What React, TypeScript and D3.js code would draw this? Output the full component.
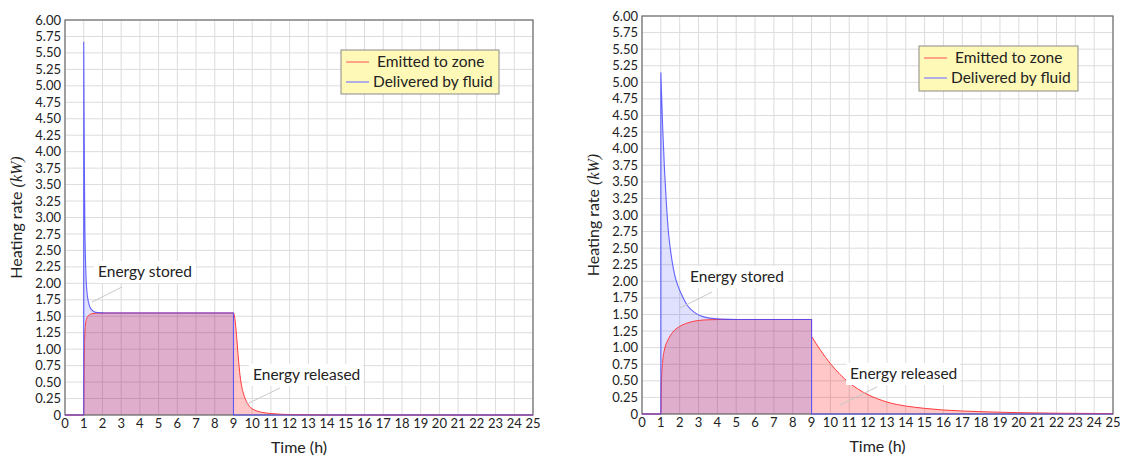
import React from "react";
import * as d3 from "d3";

type Pt = [number, number];

// Time (h) axis ticks and heating-rate (kW) ticks
const timeTicks: number[] = d3.range(0, 26, 1);
const rateTicks: number[] = d3.range(0, 6.001, 0.25);

const legendLabels = ["Emitted to zone", "Delivered by fluid"];
const annotationLabels = ["Energy stored", "Energy released"];

// Case A: light emitter, fast response
const caseADelivered: Pt[] = [
  [0, 0], [1, 0], [1, 5.67], [1.02, 4.6], [1.04, 3.6], [1.06, 2.9], [1.09, 2.4],
  [1.13, 2.05], [1.18, 1.85], [1.25, 1.72], [1.33, 1.64], [1.42, 1.6], [1.55, 1.57],
  [1.75, 1.555], [2.2, 1.55], [9, 1.55], [9, 0], [25, 0],
];
const caseAEmitted: Pt[] = [
  [0, 0], [1, 0], [1.02, 0.75], [1.05, 1.15], [1.09, 1.36], [1.15, 1.46], [1.25, 1.51],
  [1.4, 1.535], [1.7, 1.548], [2.2, 1.55], [9, 1.55], [9.08, 1.45], [9.16, 1.22],
  [9.25, 0.9], [9.35, 0.6], [9.45, 0.42], [9.55, 0.31], [9.7, 0.2], [9.85, 0.13],
  [10, 0.095], [10.25, 0.06], [10.5, 0.042], [11, 0.022], [11.5, 0.012], [12, 0.006],
  [13, 0.002], [14, 0], [25, 0],
];

// Case B: heavy emitter, slow response
const caseBDelivered: Pt[] = [
  [0, 0], [1, 0], [1, 5.15], [1.1, 4.3], [1.2, 3.65], [1.3, 3.15], [1.4, 2.75],
  [1.5, 2.5], [1.6, 2.3], [1.75, 2.08], [1.9, 1.94], [2.1, 1.8], [2.4, 1.64],
  [2.75, 1.54], [3.1, 1.48], [3.6, 1.445], [4.2, 1.43], [5, 1.425], [9, 1.425],
  [9, 0], [25, 0],
];
const caseBEmitted: Pt[] = [
  [0, 0], [1, 0], [1.02, 0.35], [1.05, 0.6], [1.1, 0.8], [1.2, 0.98], [1.35, 1.1],
  [1.5, 1.18], [1.75, 1.27], [2, 1.32], [2.5, 1.38], [3, 1.41], [3.5, 1.42],
  [4.2, 1.425], [9, 1.425], [9, 1.17], [9.5, 0.95], [10, 0.76], [10.5, 0.6],
  [11, 0.47], [11.5, 0.37], [12, 0.29], [12.5, 0.23], [13, 0.18], [13.5, 0.145],
  [14, 0.12], [15, 0.085], [16, 0.06], [17, 0.045], [18, 0.035], [19, 0.027],
  [20, 0.02], [22, 0.012], [25, 0.006],
];

const FONT = "Lato, 'Open Sans', sans-serif";
const RED = "#ff3b3b";
const BLUE = "#4a4aff";

// Break a series wherever the time repeats (a vertical jump)
function segments(data: Pt[]): Pt[][] {
  const out: Pt[][] = [[data[0]]];
  for (let i = 1; i < data.length; i++) {
    if (data[i][0] === data[i - 1][0]) out.push([data[i]]);
    else out[out.length - 1].push(data[i]);
  }
  return out;
}

interface Note {
  tx: number;
  ty: number;
  w: number;
  from: Pt;
  to: Pt;
}

interface Layout {
  left: number;
  right: number;
  top: number;
  bottom: number;
  legend: { x: number; y: number; w: number; h: number };
  stored: Note;
  released: Note;
}

function Chart({ delivered, emitted, L }: { delivered: Pt[]; emitted: Pt[]; L: Layout }) {
  const x = d3.scaleLinear().domain([0, 25]).range([L.left, L.right]);
  const y = d3.scaleLinear().domain([0, 6]).range([L.bottom, L.top]);

  const line = d3.line<Pt>().x((d) => x(d[0])).y((d) => y(d[1])).curve(d3.curveMonotoneX);
  const area = d3
    .area<Pt>()
    .x((d) => x(d[0]))
    .y0(y(0))
    .y1((d) => y(d[1]))
    .curve(d3.curveMonotoneX);

  const linePath = (data: Pt[]) =>
    segments(data)
      .map((s, i) => {
        const p = s.length > 1 ? (line(s) as string) : `M${x(s[0][0])},${y(s[0][1])}`;
        return i === 0 ? p : "L" + p.slice(1);
      })
      .join("");
  const areaPaths = (data: Pt[]) =>
    segments(data)
      .filter((s) => s.length > 1)
      .map((s) => area(s) as string);

  const fmt = (v: number) => (v === 0 ? "0" : v.toFixed(2));
  const midX = (L.left + L.right) / 2;
  const midY = (L.top + L.bottom) / 2;

  const annotation = (a: Note, label: string) => (
    <g>
      <line x1={a.from[0]} y1={a.from[1]} x2={a.to[0]} y2={a.to[1]} stroke="#c8c8c8" strokeWidth={1} />
      <rect x={a.tx - 4} y={a.ty - 11} width={a.w + 8} height={22} fill="#fff" />
      <text x={a.tx} y={a.ty} dy="0.35em" fontSize={15.5} fill="#222" fontFamily={FONT}>
        {label}
      </text>
    </g>
  );

  return (
    <g>
      {/* grid */}
      {timeTicks.map((t) => (
        <line key={"gx" + t} x1={x(t)} x2={x(t)} y1={L.top} y2={L.bottom} stroke="#dcdcdc" strokeWidth={1} />
      ))}
      {rateTicks.map((v) => (
        <line key={"gy" + v} x1={L.left} x2={L.right} y1={y(v)} y2={y(v)} stroke="#dcdcdc" strokeWidth={1} />
      ))}

      {/* filled areas */}
      {areaPaths(emitted).map((d, i) => (
        <path key={"ea" + i} d={d} fill="rgba(255,0,0,0.22)" stroke="none" />
      ))}
      {areaPaths(delivered).map((d, i) => (
        <path key={"da" + i} d={d} fill="rgba(0,0,255,0.12)" stroke="none" />
      ))}

      {/* frame */}
      <rect x={L.left} y={L.top} width={L.right - L.left} height={L.bottom - L.top} fill="none" stroke="#6b6b6b" strokeWidth={1.2} />

      {/* curves */}
      <path d={linePath(emitted)} fill="none" stroke={RED} strokeWidth={1} />
      <path d={linePath(delivered)} fill="none" stroke={BLUE} strokeWidth={1.1} strokeOpacity={0.85} />

      {/* tick labels */}
      {timeTicks.map((t) => (
        <text key={"tx" + t} x={x(t)} y={L.bottom + 4} dy="0.71em" textAnchor="middle" fontSize={13} fill="#222" fontFamily={FONT}>
          {t}
        </text>
      ))}
      {rateTicks.map((v) => (
        <text key={"ty" + v} x={L.left - 4} y={y(v)} dy="0.35em" textAnchor="end" fontSize={13} fill="#222" fontFamily={FONT}>
          {fmt(v)}
        </text>
      ))}

      {/* axis titles */}
      <text x={midX} y={L.bottom + 38} textAnchor="middle" fontSize={16} fill="#222" fontFamily={FONT}>
        Time (h)
      </text>
      <text
        transform={`translate(${L.left - 43},${midY}) rotate(-90)`}
        textAnchor="middle"
        fontSize={16}
        fill="#222"
        fontFamily={FONT}
      >
        Heating rate{" "}
        <tspan fontFamily="'Liberation Serif', 'DejaVu Serif', serif" fontStyle="italic">
          (kW)
        </tspan>
      </text>

      {/* annotations */}
      {annotation(L.stored, annotationLabels[0])}
      {annotation(L.released, annotationLabels[1])}

      {/* legend */}
      <g>
        <rect x={L.legend.x} y={L.legend.y} width={L.legend.w} height={L.legend.h} fill="#fff9b8" stroke="#8a8a8a" strokeWidth={1} />
        {legendLabels.map((lab, i) => {
          const ly = L.legend.y + 12 + i * 20;
          return (
            <g key={lab}>
              <line x1={L.legend.x + 5} x2={L.legend.x + 28} y1={ly} y2={ly} stroke={i === 0 ? "#ff6b6b" : "#7b7bff"} strokeWidth={1.2} />
              <text x={L.legend.x + (i === 0 ? 36 : 32)} y={ly} dy="0.35em" fontSize={15.5} fill="#222" fontFamily={FONT}>
                {lab}
              </text>
            </g>
          );
        })}
      </g>
    </g>
  );
}

const layoutA: Layout = {
  left: 65,
  right: 533,
  top: 20,
  bottom: 415,
  legend: { x: 341, y: 50, w: 158, h: 44 },
  stored: { tx: 98, ty: 272, w: 94, from: [92, 302], to: [122, 287] },
  released: { tx: 253, ty: 375, w: 106, from: [245, 405], to: [280, 388] },
};

const layoutB: Layout = {
  left: 642,
  right: 1113,
  top: 16,
  bottom: 414,
  legend: { x: 919, y: 46, w: 159, h: 45 },
  stored: { tx: 690, ty: 277, w: 94, from: [680, 308], to: [712, 292] },
  released: { tx: 850, ty: 374, w: 106, from: [840, 405], to: [877, 387] },
};

export default function App() {
  return (
    <svg
      width={1121}
      height={457}
      viewBox="0 0 1121 457"
      style={{ position: "absolute", left: 0, top: 0, background: "#fff" }}
    >
      <Chart delivered={caseADelivered} emitted={caseAEmitted} L={layoutA} />
      <Chart delivered={caseBDelivered} emitted={caseBEmitted} L={layoutB} />
    </svg>
  );
}
